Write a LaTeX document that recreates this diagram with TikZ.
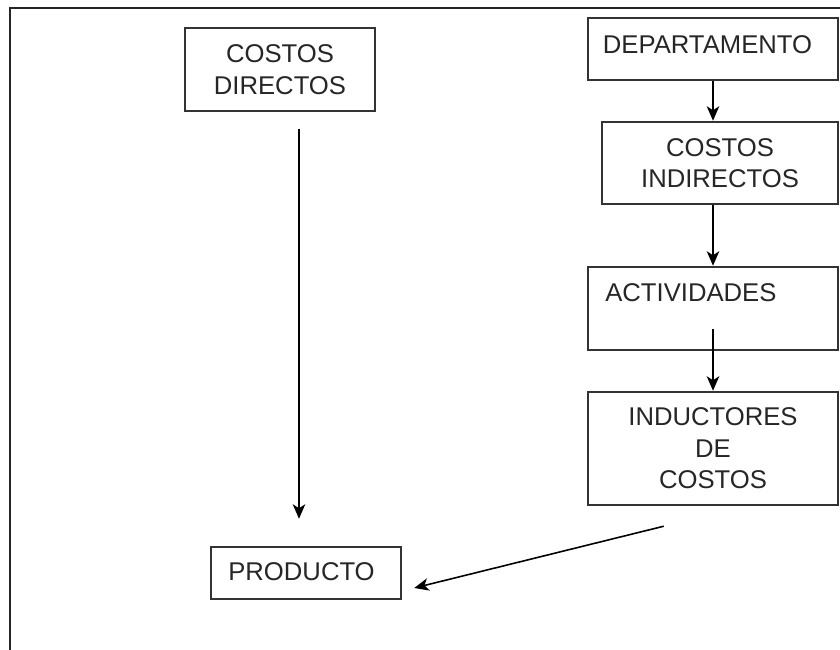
\documentclass[tikz,border=0pt]{standalone}
\usepackage{fontspec}
\setmainfont{Liberation Sans}
\usetikzlibrary{arrows.meta, positioning, calc}

\begin{document}
\begin{tikzpicture}[
  caja/.style={draw=black!80, line width=1.4pt, text=black!85, align=center,
    inner sep=0pt, font=\fontsize{14.6}{18}\selectfont},
  texto/.style={text=black!85, inner sep=0pt, font=\fontsize{14.6}{18}\selectfont},
  flecha/.style={draw=black, line width=0.9pt, -{Stealth[length=2.9mm,width=2.5mm,inset=0.8mm]}}
]
\useasboundingbox (0,0) rectangle (16.8,13);

% marco
\draw[black!85, line width=1.4pt] (0.2,0) -- (0.2,12.84) -- (16.8,12.84);

% columna izquierda
\node[caja, minimum width=3.8cm, minimum height=1.66cm] (cd) at (5.6,11.61) {COSTOS\\DIRECTOS};
\node[caja, minimum width=3.8cm, minimum height=1.04cm] (prod) at (6.12,1.54) {};
\node[texto, anchor=west] (prodtxt) at (4.56,1.56) {PRODUCTO};

% columna derecha
\node[caja, minimum width=5cm, minimum height=1.24cm] (dep) at (14.26,12.02) {};
\node[texto] (deptxt) at (14.15,12.1) {DEPARTAMENTO};
\node[caja, minimum width=4.72cm, minimum height=1.64cm] (ci) at (14.40,9.74) {COSTOS\\INDIRECTOS};
\node[caja, minimum width=5cm, minimum height=1.66cm] (act) at (14.26,6.83) {};
\node[texto, anchor=west] (acttxt) at (12.1,7.15) {ACTIVIDADES};
\node[caja, minimum width=5cm, minimum height=2.26cm] (ind) at (14.26,4.03) {INDUCTORES\\DE\\COSTOS};

% flechas
\draw[flecha] (dep.south) -- (ci.north -| dep.south);
\draw[flecha] (ci.south -| dep.south) -- (act.north);
\draw[flecha] ([yshift=0.44cm]act.south) -- (ind.north);
\draw[flecha, shorten <=0.34cm, shorten >=0.54cm] ([xshift=0.38cm]cd.south) -- ([xshift=0.38cm]cd.south |- prod.north);
\draw[flecha] ([xshift=1.54cm, yshift=-0.4cm]ind.south west) -- ([xshift=0.24cm, yshift=-0.3cm]prod.east);
\end{tikzpicture}
\end{document}
